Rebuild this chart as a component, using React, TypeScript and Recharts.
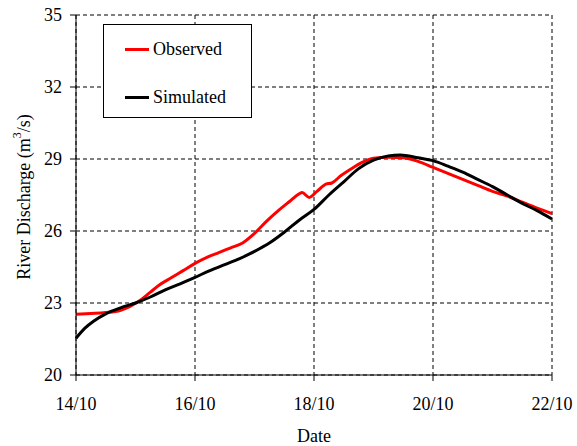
import { LineChart, Line, XAxis, YAxis, CartesianGrid } from "recharts";

// day of October (fractional) and discharge in m3/s
const obsDays = [
  14.0, 14.25, 14.5, 14.75, 14.9, 15.1, 15.25, 15.4, 15.6, 15.8, 16.0, 16.2, 16.4,
  16.6, 16.8, 17.0, 17.2, 17.4, 17.6, 17.75, 17.8, 17.92, 18.05, 18.2, 18.3, 18.45,
  18.6, 18.8, 19.0, 19.25, 19.5, 19.75, 20.0, 20.25, 20.5, 20.75, 21.0, 21.25, 21.5,
  21.75, 22.0,
];
const obsValues = [
  22.53, 22.56, 22.6, 22.7, 22.85, 23.15, 23.45, 23.75, 24.05, 24.35, 24.65, 24.9, 25.1,
  25.3, 25.5, 25.9, 26.4, 26.85, 27.25, 27.55, 27.6, 27.4, 27.65, 27.95, 28.0, 28.3,
  28.55, 28.85, 29.03, 29.07, 29.05, 28.9, 28.65, 28.4, 28.15, 27.9, 27.65, 27.45, 27.2,
  26.95, 26.72,
];

const simDays = [
  14.0, 14.15, 14.3, 14.5, 14.75, 15.0, 15.25, 15.5, 15.75, 16.0, 16.25, 16.5, 16.75,
  17.0, 17.25, 17.5, 17.75, 18.0, 18.25, 18.5, 18.75, 19.0, 19.25, 19.45, 19.75, 20.0,
  20.25, 20.5, 20.75, 21.0, 21.25, 21.5, 21.75, 22.0,
];
const simValues = [
  21.53, 21.95, 22.25, 22.55, 22.8, 23.0, 23.25, 23.55, 23.8, 24.07, 24.35, 24.6, 24.85,
  25.15, 25.5, 25.95, 26.45, 26.9, 27.5, 28.05, 28.6, 28.95, 29.13, 29.17, 29.05, 28.93,
  28.7, 28.45, 28.15, 27.85, 27.5, 27.15, 26.85, 26.5,
];

const xTicks = [14, 16, 18, 20, 22];
const xTickLabels = ["14/10", "16/10", "18/10", "20/10", "22/10"];
const yTicks = [20, 23, 26, 29, 32, 35];

const observed = obsDays.map((day, i) => ({ day, value: obsValues[i] }));
const simulated = simDays.map((day, i) => ({ day, value: simValues[i] }));

const FONT = "'Liberation Serif', 'Times New Roman', serif";
const tickStyle = { fontFamily: FONT, fontSize: 18, fill: "#000" };

const legendItems = [
  { name: "Observed", color: "#ff0000", top: 13 },
  { name: "Simulated", color: "#000", top: 61 },
];

const LegendBox = () => (
  <div
    style={{
      position: "absolute",
      left: 103,
      top: 24,
      width: 147,
      height: 92,
      border: "1px solid #000",
      background: "#fff",
      fontFamily: FONT,
      fontSize: 18,
    }}
  >
    {legendItems.map((d) => (
      <div
        key={d.name}
        style={{ position: "absolute", left: 21, top: d.top, display: "flex", alignItems: "center" }}
      >
        <span style={{ width: 24, height: 3, background: d.color, display: "inline-block" }} />
        <span style={{ marginLeft: 4, lineHeight: "22px" }}>{d.name}</span>
      </div>
    ))}
  </div>
);

const YLabel = () => (
  <text
    x={24}
    y={197}
    transform="rotate(-90, 24, 197)"
    textAnchor="middle"
    dominantBaseline="central"
    style={{ fontFamily: FONT, fontSize: 18, fill: "#000" }}
  >
    River Discharge (m
    <tspan dy={-7} fontSize={12}>3</tspan>
    <tspan dy={7}>/s)</tspan>
  </text>
);

export default function App() {
  return (
    <div style={{ position: "absolute", left: 0, top: 0, width: 577, height: 446 }}>
      <LineChart width={577} height={446} margin={{ top: 15, right: 25, left: 16, bottom: 0 }}>
        <CartesianGrid stroke="#000" strokeDasharray="4 3" />
        <XAxis
          type="number"
          dataKey="day"
          domain={[14, 22]}
          ticks={xTicks}
          tickFormatter={(v) => xTickLabels[xTicks.indexOf(v)]}
          height={71}
          tickSize={6}
          tickMargin={16}
          tick={tickStyle}
          stroke="#000"
          allowDuplicatedCategory={false}
          label={{ value: "Date", position: "insideBottom", offset: 4, style: tickStyle }}
        />
        <YAxis
          type="number"
          domain={[20, 35]}
          ticks={yTicks}
          width={60}
          tickSize={6}
          tickMargin={8}
          tick={tickStyle}
          stroke="#000"
          label={{ content: () => <YLabel /> }}
        />
        <Line
          data={observed}
          dataKey="value"
          name="Observed"
          stroke="#ff0000"
          strokeWidth={3}
          dot={false}
          type="monotone"
          isAnimationActive={false}
        />
        <Line
          data={simulated}
          dataKey="value"
          name="Simulated"
          stroke="#000"
          strokeWidth={3}
          dot={false}
          type="monotone"
          isAnimationActive={false}
        />
      </LineChart>
      <LegendBox />
    </div>
  );
}
